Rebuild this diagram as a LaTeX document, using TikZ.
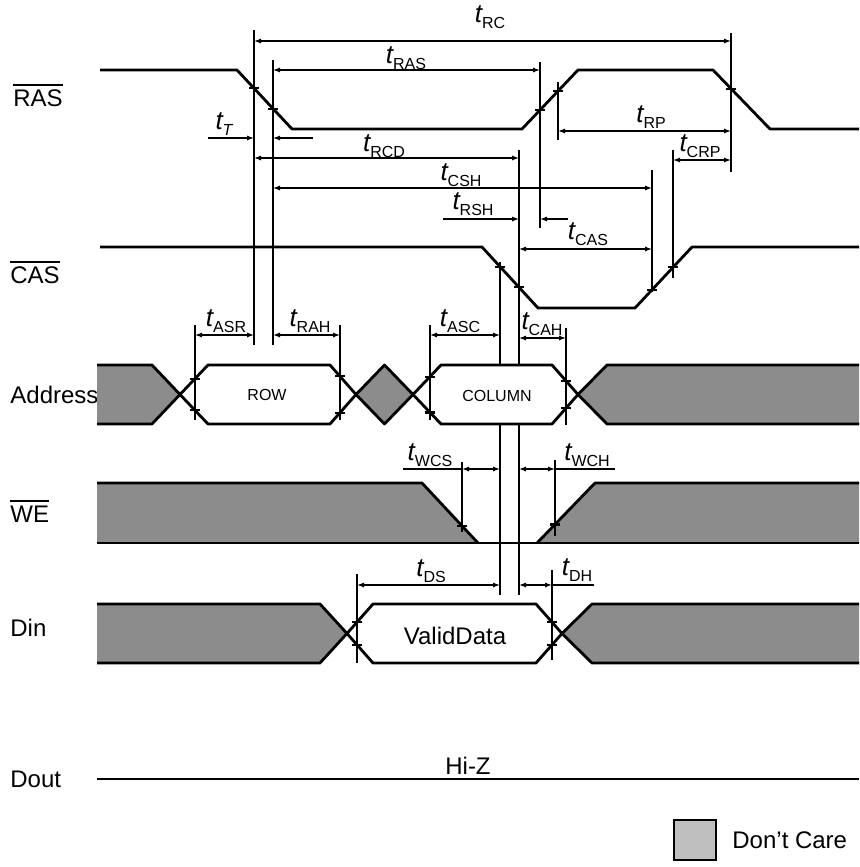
\documentclass[tikz,border=0pt]{standalone}
\usepackage{fontspec}
\setmainfont{Liberation Sans}
\usepackage{tikz}
\usetikzlibrary{arrows.meta}
\newcommand{\tsub}[1]{{\fontsize{13}{14}\selectfont\itshape t}\raisebox{-3pt}{\fontsize{8}{9}\selectfont #1}}
\tikzset{
  sig/.style={line width=1.4pt,line join=round},
  dcfill/.style={fill=black!45},
  vline/.style={line width=1.1pt},
  dim/.style={{Latex[length=3.5pt,width=2.6pt]}-{Latex[length=3.5pt,width=2.6pt]},line width=0.9pt},
  dimto/.style={-{Latex[length=3.5pt,width=2.6pt]},line width=0.9pt},
  lead/.style={line width=0.9pt},
  tickm/.style={line width=1.1pt},
  signame/.style={anchor=west,inner sep=0pt,font=\fontsize{12}{14}\selectfont},
  tlab/.style={inner sep=0pt},
  bus/.style={inner sep=0pt,font=\fontsize{8}{10}\selectfont},
}
\begin{document}
\begin{tikzpicture}[x=0.5pt,y=-0.5pt]
\useasboundingbox (0,0) rectangle (859,867);

% signal names
\node[signame] (ras) at (13,98) {RAS};
\draw[line width=0.9pt] ([yshift=2pt]ras.north west) -- ([yshift=2pt]ras.north east);
\node[signame] (cas) at (10,275) {CAS};
\draw[line width=0.9pt] ([yshift=2pt]cas.north west) -- ([yshift=2pt]cas.north east);
\node[signame] (addr) at (10,395) {Address};
\node[signame] (we) at (10,514) {WE};
\draw[line width=0.9pt] ([yshift=2pt]we.north west) -- ([yshift=2pt]we.north east);
\node[signame] (din) at (10,628) {Din};
\node[signame] (dout) at (10,779) {Dout};

% don't care areas
\fill[dcfill] (97,365) -- (152,365) -- (180,394.5) -- (152,424) -- (97,424) -- cycle;
\fill[dcfill] (356,394.5) -- (384.5,365) -- (413,394.5) -- (384.5,424) -- cycle;
\fill[dcfill] (578,394.5) -- (607,365) -- (859,365) -- (859,424) -- (607,424) -- cycle;
\fill[dcfill] (97,483) -- (422,483) -- (478,543) -- (97,543) -- cycle;
\fill[dcfill] (537,543) -- (595,483) -- (859,483) -- (859,543) -- cycle;
\fill[dcfill] (97,604) -- (320,604) -- (347,633.5) -- (320,663) -- (97,663) -- cycle;
\fill[dcfill] (562,633.5) -- (592,604) -- (859,604) -- (859,663) -- (592,663) -- cycle;

% waveforms
\draw[sig] (100,70) -- (237,70) -- (292,129) -- (522,129) -- (578,70) -- (713,70) -- (770,129) -- (859,129);
\draw[sig] (100,247) -- (482,247) -- (538,308) -- (635,308) -- (692,247) -- (859,247);
\draw[sig] (97,365) -- (152,365) -- (180,394.5) -- (208,424) -- (330,424) -- (356,394.5) -- (384.5,365)
  -- (413,394.5) -- (441,424) -- (552,424) -- (578,394.5) -- (607,365) -- (859,365);
\draw[sig] (97,424) -- (152,424) -- (180,394.5) -- (208,365) -- (330,365) -- (356,394.5) -- (384.5,424)
  -- (413,394.5) -- (441,365) -- (552,365) -- (578,394.5) -- (607,424) -- (859,424);
\draw[sig] (97,483) -- (422,483) -- (478,543);
\draw[sig] (537,543) -- (595,483) -- (859,483);
\draw[sig] (97,543) -- (859,543);
\draw[sig] (97,604) -- (320,604) -- (347,633.5) -- (373,663) -- (536,663) -- (562,633.5) -- (592,604) -- (859,604);
\draw[sig] (97,663) -- (320,663) -- (347,633.5) -- (373,604) -- (536,604) -- (562,633.5) -- (592,663) -- (859,663);
\draw[sig] (97,779) -- (859,779);

\node[bus] (row) at (267,395) {ROW};
\node[bus] (col) at (497,396) {COLUMN};
\node[signame,anchor=center] (valid) at (455,636) {ValidData};
\node[signame,anchor=center] (hiz) at (468,766) {Hi-Z};

% reference lines
\foreach \x/\ya/\yb in {254/30/345, 273/60/345, 540/62/228, 558/82/140, 731/33/172,
    673/150/278, 652/170/292, 500/262/365, 500/424/595, 519/150/365, 519/424/595,
    195/325/420, 340/325/420, 430/325/420, 566/328/425, 462/462/532, 555/460/536,
    357/574/663, 552/570/660}
  \draw[vline] (\x,\ya) -- (\x,\yb);

% crossing ticks
\foreach \x/\y in {254/88.2, 273/108.6, 540/110, 558/91.1, 731/88.6,
    500/266.6, 519/287.3, 652/289.8, 673/267.3,
    195/378.7, 195/410.3, 340/376.3, 340/412.7, 430/376.6, 430/412.4, 566/380.9, 566/408.1,
    462/525.9, 555/524.4, 357/622.2, 357/644.8, 552/622.2, 552/644.8}
  \draw[tickm] ({\x-5},\y) -- ({\x+5},\y);

% timing arrows
\draw[dim] (254,41) -- (731,41);
\draw[dim] (273,70) -- (540,70);
\draw[dimto] (208,138) -- (254,138);
\draw[dimto] (313,138) -- (273,138);
\draw[dim] (558,131) -- (731,131);
\draw[dim] (254,158) -- (519,158);
\draw[dim] (673,160) -- (731,160);
\draw[dim] (273,188) -- (652,188);
\draw[dimto] (443,219) -- (519,219);
\draw[dimto] (568,219) -- (540,219);
\draw[dim] (519,249) -- (652,249);
\draw[dim] (195,335) -- (254,335);
\draw[dim] (273,335) -- (340,335);
\draw[dim] (430,335) -- (500,335);
\draw[dim] (519,338) -- (566,338);
\draw[lead] (403,469) -- (462,469);
\draw[dim] (462,469) -- (500,469);
\draw[dim] (519,469) -- (555,469);
\draw[lead] (555,469) -- (615,469);
\draw[dim] (357,585) -- (500,585);
\draw[dim] (519,585) -- (552,585);
\draw[lead] (552,585) -- (594,585);

% timing labels
\node[tlab] (tRC) at (490,17) {\tsub{RC}};
\node[tlab] (tRAS) at (406,58) {\tsub{RAS}};
\node[tlab] (tT) at (224,124) {\tsub{\itshape T}};
\node[tlab] (tRCD) at (384,146) {\tsub{RCD}};
\node[tlab] (tRP) at (651,117) {\tsub{RP}};
\node[tlab] (tCRP) at (700,146) {\tsub{CRP}};
\node[tlab] (tCSH) at (461,175) {\tsub{CSH}};
\node[tlab] (tRSH) at (473,204) {\tsub{RSH}};
\node[tlab] (tCAS) at (588,234) {\tsub{CAS}};
\node[tlab] (tASR) at (226,321) {\tsub{ASR}};
\node[tlab] (tRAH) at (310,321) {\tsub{RAH}};
\node[tlab] (tASC) at (460,321) {\tsub{ASC}};
\node[tlab] (tCAH) at (542,324) {\tsub{CAH}};
\node[tlab] (tWCS) at (430,455) {\tsub{WCS}};
\node[tlab] (tWCH) at (587,455) {\tsub{WCH}};
\node[tlab] (tDS) at (431,571) {\tsub{DS}};
\node[tlab] (tDH) at (577,570) {\tsub{DH}};

% legend
\draw[line width=1pt,fill=black!25] (674,820) rectangle (716,860);
\node[signame] (dc) at (732,840) {Don't Care};

\end{tikzpicture}
\end{document}
